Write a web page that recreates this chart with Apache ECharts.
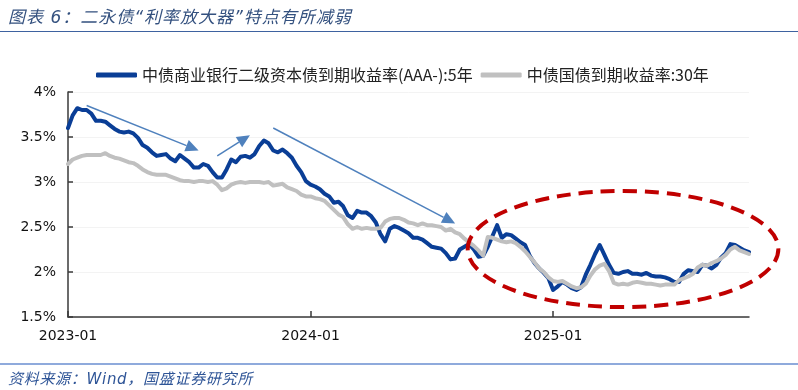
<!DOCTYPE html>
<html>
<head>
<meta charset="utf-8">
<title>图表6 二永债利率放大器</title>
<script src="https://cdn.jsdelivr.net/npm/echarts@6.0.0/dist/echarts.min.js"></script>
<style>
  html, body { margin: 0; padding: 0; background: #fff; }
  #wrap { position: relative; width: 798px; height: 390px; overflow: hidden; }
  #chart { position: absolute; left: 0; top: 0; width: 798px; height: 390px; }
  .title {
    position: absolute; left: 8px; top: 3px; white-space: nowrap;
    font: italic 17px "DejaVu Sans", "Noto Sans CJK SC", sans-serif;
    color: #34517f; letter-spacing: 1px;
  }
  .rule-top { position: absolute; left: 0; top: 31px; width: 798px; border-top: 1.5px solid #3e62a0; }
  .rule-bottom { position: absolute; left: 0; top: 363px; width: 798px; border-top: 2px solid #8faadc; }
  .source {
    position: absolute; left: 8px; top: 367px; white-space: nowrap;
    font: italic 15px "DejaVu Sans", "Noto Sans CJK SC", sans-serif;
    color: #2f5597; letter-spacing: 0.7px;
  }
</style>
</head>
<body>
<div id="wrap">
  <div id="chart"></div>
  <div class="title">图表 6：二永债“利率放大器”特点有所减弱</div>
  <div class="rule-top"></div>
  <div class="rule-bottom"></div>
  <div class="source">资料来源：Wind，国盛证券研究所</div>
</div>
<script>
// 周度数据，第一周 2023-01-02（周一）
var firstWeek = [2023, 0, 2];
var weekCount = 147;

var seriesNames = ['中债商业银行二级资本债到期收益率(AAA-):5年', '中债国债到期收益率:30年'];

// 二级资本债 AAA- 5年 (%)
var tier2Yield = [
  3.60, 3.74, 3.82, 3.80, 3.80, 3.76, 3.68, 3.68, 3.67, 3.63,
  3.59, 3.56, 3.55, 3.56, 3.54, 3.49, 3.41, 3.38, 3.33, 3.29,
  3.30, 3.31, 3.26, 3.23, 3.30, 3.26, 3.22, 3.16, 3.16, 3.20,
  3.18, 3.11, 3.05, 3.05, 3.14, 3.25, 3.22, 3.28, 3.29, 3.27,
  3.31, 3.40, 3.46, 3.43, 3.35, 3.33, 3.36, 3.32, 3.27, 3.18,
  3.11, 3.01, 2.97, 2.95, 2.92, 2.87, 2.84, 2.77, 2.78, 2.73,
  2.63, 2.60, 2.68, 2.66, 2.66, 2.62, 2.55, 2.42, 2.34, 2.48,
  2.51, 2.49, 2.46, 2.43, 2.38, 2.38, 2.36, 2.32, 2.28, 2.27,
  2.26, 2.21, 2.14, 2.15, 2.25, 2.28, 2.31, 2.25, 2.17, 2.18,
  2.28, 2.40, 2.52, 2.38, 2.42, 2.41, 2.37, 2.33, 2.30, 2.18,
  2.10, 2.04, 1.99, 1.93, 1.80, 1.84, 1.89, 1.86, 1.82, 1.80,
  1.83, 1.97, 2.08, 2.20, 2.30, 2.19, 2.08, 1.99, 1.98, 2.00,
  2.01, 1.98, 1.98, 1.97, 1.99, 1.96, 1.95, 1.95, 1.94, 1.92,
  1.89, 1.89, 1.98, 2.02, 2.01, 2.00, 2.08, 2.07, 2.04, 2.08,
  2.16, 2.21, 2.31, 2.30, 2.27, 2.24, 2.22
];

// 国债 30年 (%)
var cgb30Yield = [
  3.20, 3.25, 3.27, 3.29, 3.30, 3.30, 3.30, 3.30, 3.32, 3.29,
  3.27, 3.26, 3.24, 3.22, 3.21, 3.18, 3.14, 3.11, 3.09, 3.08,
  3.08, 3.08, 3.06, 3.04, 3.02, 3.01, 3.01, 3.00, 3.01, 3.01,
  3.00, 3.01, 2.97, 2.91, 2.93, 2.97, 2.99, 3.00, 2.99, 3.00,
  3.00, 3.00, 2.99, 3.00, 2.96, 2.97, 2.98, 2.94, 2.92, 2.90,
  2.86, 2.84, 2.84, 2.82, 2.81, 2.79, 2.74, 2.69, 2.64, 2.61,
  2.53, 2.48, 2.50, 2.48, 2.49, 2.48, 2.48, 2.49, 2.56, 2.59,
  2.60, 2.60, 2.58, 2.55, 2.54, 2.52, 2.54, 2.52, 2.52, 2.51,
  2.50, 2.46, 2.48, 2.44, 2.42, 2.37, 2.33, 2.29, 2.24, 2.18,
  2.39, 2.38, 2.36, 2.34, 2.33, 2.34, 2.32, 2.28, 2.23, 2.17,
  2.11, 2.04, 2.00, 1.94, 1.90, 1.89, 1.90, 1.87, 1.84, 1.82,
  1.83, 1.87, 1.96, 2.03, 2.07, 2.09, 2.01, 1.88, 1.86, 1.87,
  1.86, 1.88, 1.89, 1.88, 1.87, 1.87, 1.86, 1.85, 1.86, 1.86,
  1.86, 1.91, 1.93, 1.95, 1.98, 2.05, 2.08, 2.07, 2.10, 2.12,
  2.15, 2.19, 2.25, 2.28, 2.24, 2.22, 2.20
];

// x轴刻度：所在周 -> 标签
var xTicks = [
  ['2023-01-02', '2023-01'],
  ['2024-01-01', '2024-01'],
  ['2024-12-30', '2025-01']
];
var yMin = 1.5, yMax = 4, yStep = 0.5;

// 标注：箭头（起点、终点）与红色虚线椭圆
var arrows = [
  [['2023-01-30', 3.85], ['2023-07-17', 3.35]],
  [['2023-08-14', 3.29], ['2023-10-02', 3.52]],
  [['2023-11-06', 3.60], ['2024-08-05', 2.54]]
];
var ellipseMark = { center: ['2025-04-14', 2.255], halfWeeks: 33.3, halfValue: 0.645 };

var blue = '#0a3e96';
var gray = '#c0c0c0';
var arrowColor = '#4f81bd';
var axisColor = '#3a3a3a';
var font = '"DejaVu Sans", "Noto Sans CJK SC", sans-serif';
var legendFont = '"Noto Sans CJK SC", sans-serif';

var dates = [];
for (var i = 0; i < weekCount; i++) {
  var d = new Date(Date.UTC(firstWeek[0], firstWeek[1], firstWeek[2] + 7 * i));
  dates.push(d.toISOString().slice(0, 10));
}
var tickMap = {};
xTicks.forEach(function (t) { tickMap[t[0]] = t[1]; });
function isTick(idx, val) { return tickMap[val] !== undefined; }

var chart = echarts.init(document.getElementById('chart'), null, { renderer: 'canvas' });

chart.setOption({
  animation: false,
  backgroundColor: 'transparent',
  grid: { left: 68, right: 49, top: 92, bottom: 73 },
  legend: {
    left: 91, top: 62,
    itemWidth: 41, itemHeight: 5, itemGap: 8,
    icon: 'roundRect',
    textStyle: { fontFamily: legendFont, fontSize: 16, color: '#222' },
    data: seriesNames
  },
  xAxis: {
    type: 'category',
    data: dates,
    boundaryGap: false,
    axisLine: { lineStyle: { color: axisColor, width: 1.5 } },
    axisTick: { inside: true, length: 6, interval: isTick, lineStyle: { color: axisColor, width: 1.5 } },
    axisLabel: {
      interval: isTick, margin: 12,
      fontFamily: font, fontSize: 14, color: '#111',
      formatter: function (v) { return tickMap[v] || ''; }
    },
    splitLine: { show: false }
  },
  yAxis: {
    type: 'value',
    min: yMin, max: yMax, interval: yStep,
    axisLine: { show: true, lineStyle: { color: axisColor, width: 1.5 } },
    axisTick: { show: true, inside: true, length: 5, lineStyle: { color: axisColor, width: 1.5 } },
    axisLabel: {
      margin: 12, fontFamily: font, fontSize: 14, color: '#111',
      formatter: function (v) { return v + '%'; }
    },
    splitLine: { show: true, lineStyle: { color: '#f3f3f3', width: 1 } }
  },
  series: [
    {
      name: seriesNames[0], type: 'line', data: tier2Yield,
      showSymbol: false, symbol: 'none', z: 2,
      itemStyle: { color: blue },
      lineStyle: { color: blue, width: 4, cap: 'round', join: 'round' }
    },
    {
      name: seriesNames[1], type: 'line', data: cgb30Yield,
      showSymbol: false, symbol: 'none', z: 3,
      itemStyle: { color: gray },
      lineStyle: { color: gray, width: 4, cap: 'round', join: 'round' }
    }
  ]
});

// 标注位置通过坐标轴换算
function px(date, v) { return chart.convertToPixel({ gridIndex: 0 }, [date, v]); }

var marks = [];
arrows.forEach(function (a) {
  var p0 = px(a[0][0], a[0][1]);
  var p1 = px(a[1][0], a[1][1]);
  var dx = p1[0] - p0[0], dy = p1[1] - p0[1];
  var len = Math.sqrt(dx * dx + dy * dy);
  var ux = dx / len, uy = dy / len;
  var hl = 13, hw = 6;
  var bx = p1[0] - ux * hl, by = p1[1] - uy * hl;
  marks.push({
    type: 'line', z: 20, silent: true,
    shape: { x1: p0[0], y1: p0[1], x2: bx, y2: by },
    style: { stroke: arrowColor, lineWidth: 1.5 }
  });
  marks.push({
    type: 'polygon', z: 20, silent: true,
    shape: { points: [[p1[0], p1[1]], [bx - uy * hw, by + ux * hw], [bx + uy * hw, by - ux * hw]] },
    style: { fill: arrowColor }
  });
});

var c = px(ellipseMark.center[0], ellipseMark.center[1]);
var weekPx = px(dates[1], yMin)[0] - px(dates[0], yMin)[0];
var rx = ellipseMark.halfWeeks * weekPx;
var ry = px(dates[0], ellipseMark.center[1] - ellipseMark.halfValue)[1] - c[1];
marks.push({
  type: 'ellipse', z: 20, silent: true,
  shape: { cx: c[0], cy: c[1], rx: rx, ry: ry },
  style: { fill: null, stroke: '#c00000', lineWidth: 4, lineDash: [14, 8] }
});

chart.setOption({ graphic: { elements: marks } });
</script>
</body>
</html>
